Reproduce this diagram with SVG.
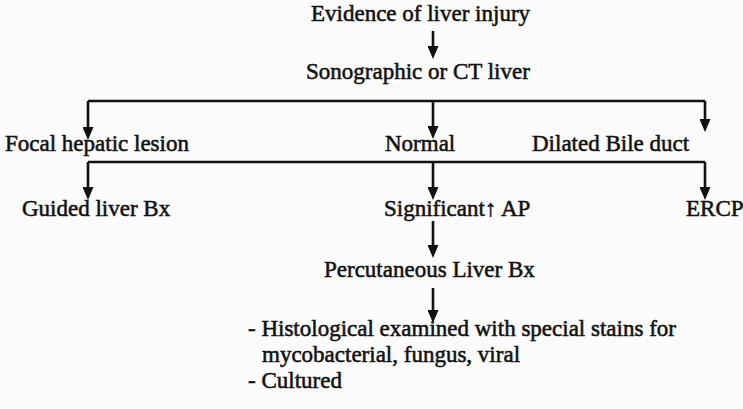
<svg xmlns="http://www.w3.org/2000/svg" width="743" height="409" viewBox="0 0 743 409">
<style>
  text { font-size: 23px; fill: #111; stroke: #111; stroke-width: 0.55; }
  .c { fill: none; stroke: #111; stroke-width: 2.6; }
  .a { marker-end: url(#ah); }
</style>
<defs>
  <marker id="ah" markerUnits="userSpaceOnUse" viewBox="0 0 13 11" markerWidth="13" markerHeight="11" refX="1" refY="5.5" orient="auto">
    <path d="M0,0 L13,5.5 L0,11 z" fill="#111"/>
  </marker>
</defs>
<rect width="743" height="409" fill="#fbfbfb"/>
<g id="connectors">
  <path class="c a" d="M433,31 V47"/>
  <path class="c" d="M88,101 H705"/>
  <path class="c a" d="M88,101 V128"/>
  <path class="c a" d="M433,101 V127"/>
  <path class="c a" d="M705,101 V120"/>
  <path class="c" d="M88,162 H705"/>
  <path class="c a" d="M88,162 V188"/>
  <path class="c a" d="M433,162 V188"/>
  <path class="c a" d="M705,162 V188"/>
  <path class="c a" d="M433,221 V246"/>
  <path class="c a" d="M433,288 V311"/>
</g>
<g font-family="Liberation Serif, Times New Roman, DejaVu Serif, serif">
<g id="n-evidence"><text x="311" y="21">Evidence of liver injury</text></g>
<g id="n-sono"><text x="306" y="79">Sonographic or CT liver</text></g>
<g id="n-focal"><text x="5" y="151">Focal hepatic lesion</text></g>
<g id="n-normal"><text x="385" y="151">Normal</text></g>
<g id="n-dilated"><text x="532" y="151">Dilated Bile duct</text></g>
<g id="n-guided"><text x="22" y="216">Guided liver Bx</text></g>
<g id="n-significant"><text x="384" y="216">Significant<tspan font-weight="bold">↑</tspan> AP</text></g>
<g id="n-ercp"><text x="686" y="216">ERCP</text></g>
<g id="n-percutaneous"><text x="324" y="277">Percutaneous Liver Bx</text></g>
<g id="n-result">
  <text x="248" y="336">- Histological examined with special stains for</text>
  <text x="262" y="362">mycobacterial, fungus, viral</text>
  <text x="248" y="388">- Cultured</text>
</g>
</g>
</svg>
